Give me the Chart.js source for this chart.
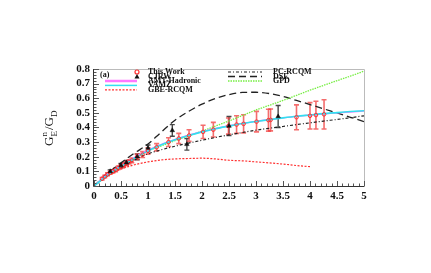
<!DOCTYPE html>
<html>
<head>
<meta charset="utf-8">
<script src="https://cdn.jsdelivr.net/npm/chart.js@4.4.1/dist/chart.umd.min.js"></script>
<style>html,body{margin:0;padding:0;background:#fff}</style>
</head>
<body>
<canvas id="chart" width="431" height="273"></canvas>
<script>
// ---------- data ----------
const twQ2  = [0.15, 0.2, 0.25, 0.3, 0.35, 0.4, 0.45, 0.5, 0.55, 0.6, 0.65, 0.7, 0.8, 0.9, 1.0,
               1.16, 1.38, 1.57, 1.76, 2.02, 2.21, 2.49, 2.64, 2.77, 3.01, 3.23, 3.27, 3.75, 4.0, 4.11, 4.26];
const twVal = [0.05, 0.065, 0.08, 0.09, 0.1, 0.11, 0.125, 0.135, 0.145, 0.155, 0.165, 0.175, 0.2, 0.215, 0.24,
               0.265, 0.3, 0.325, 0.345, 0.37, 0.385, 0.41, 0.42, 0.425, 0.44, 0.45, 0.452, 0.47, 0.48, 0.485, 0.49];
const twErr = [0.008, 0.008, 0.01, 0.01, 0.01, 0.012, 0.012, 0.012, 0.014, 0.014, 0.015, 0.016, 0.018, 0.02, 0.022,
               0.025, 0.03, 0.035, 0.04, 0.045, 0.05, 0.055, 0.06, 0.062, 0.07, 0.075, 0.075, 0.085, 0.09, 0.095, 0.1];

const cjrwQ2  = [0.3, 0.5, 0.6, 0.8, 1.0, 1.45, 1.72, 2.5, 3.41];
const cjrwVal = [0.1, 0.14, 0.16, 0.2, 0.26, 0.38, 0.285, 0.41, 0.475];
const cjrwErr = [0.01, 0.015, 0.015, 0.02, 0.02, 0.04, 0.04, 0.065, 0.075];

const curveQ2 = [0, 0.25, 0.5, 0.75, 1, 1.25, 1.5, 1.75, 2, 2.25, 2.5, 2.75, 3, 3.25, 3.5, 3.75, 4, 4.25, 4.5, 4.75, 5];
const amtVal  = [0, 0.08, 0.14, 0.195, 0.245, 0.285, 0.318, 0.348, 0.372, 0.393, 0.412, 0.428, 0.442, 0.455, 0.466, 0.476, 0.485, 0.493, 0.5, 0.506, 0.512];
const vamzVal = [0, 0.075, 0.135, 0.19, 0.24, 0.282, 0.316, 0.345, 0.37, 0.392, 0.41, 0.427, 0.441, 0.454, 0.466, 0.477, 0.486, 0.495, 0.502, 0.509, 0.515];
const pcVal   = [0, 0.07, 0.125, 0.178, 0.22, 0.248, 0.272, 0.293, 0.313, 0.332, 0.35, 0.366, 0.382, 0.395, 0.407, 0.42, 0.432, 0.444, 0.455, 0.467, 0.48];
const dseVal  = [0, 0.085, 0.158, 0.225, 0.287, 0.37, 0.45, 0.51, 0.56, 0.598, 0.625, 0.64, 0.641, 0.632, 0.612, 0.585, 0.557, 0.528, 0.5, 0.47, 0.44];
const gpdVal  = [0, 0.075, 0.135, 0.19, 0.24, 0.275, 0.31, 0.342, 0.375, 0.41, 0.445, 0.482, 0.52, 0.552, 0.585, 0.62, 0.655, 0.688, 0.72, 0.752, 0.785];
const gbeQ2   = [0, 0.25, 0.5, 0.75, 1, 1.25, 1.5, 1.75, 2, 2.25, 2.5, 2.75, 3, 3.25, 3.5, 3.75, 4];
const gbeVal  = [0, 0.07, 0.115, 0.145, 0.165, 0.178, 0.185, 0.188, 0.19, 0.185, 0.176, 0.172, 0.165, 0.158, 0.15, 0.14, 0.132];

const xTicks = [0, 0.5, 1, 1.5, 2, 2.5, 3, 3.5, 4, 4.5, 5];
const yTicks = [0, 0.1, 0.2, 0.3, 0.4, 0.5, 0.6, 0.7, 0.8];

// ---------- helpers ----------
const pts = (xs, ys) => xs.map((x, i) => ({ x, y: ys[i] }));
const SERIF = '"Liberation Serif", "DejaVu Serif", serif';

function curve(label, xs, ys, color, dash, width) {
  return {
    type: 'line', label, data: pts(xs, ys),
    borderColor: color, borderWidth: width || 1.3, borderDash: dash || [],
    pointRadius: 0, fill: false, tension: 0.4, cubicInterpolationMode: 'monotone'
  };
}

// legend entries (drawn by plugin)
const legendLeft = [
  { label: 'This Work', marker: 'circle' },
  { label: 'CJRW', marker: 'triangle' },
  { label: 'AMT-Hadronic', color: '#ff77ff', dash: [], width: 2.5 },
  { label: 'VAMZ', color: '#33e0f0', dash: [], width: 1.5 },
  { label: 'GBE-RCQM', color: '#ff3030', dash: [2, 1.5], width: 1.2 }
];
const legendRight = [
  { label: 'PC-RCQM', color: '#222', dash: [3, 2, 1, 2], width: 1.2 },
  { label: 'DSE', color: '#222', dash: [7, 4], width: 1.3 },
  { label: 'GPD', color: '#77ee44', dash: [1.5, 1], width: 1.3 }
];

// ---------- plugin ----------
const extras = {
  id: 'extras',
  beforeDatasetsDraw(chart) {
    const { ctx, scales: { x, y } } = chart;
    ctx.save();
    const bars = (xs, ys, es, color, w) => {
      ctx.strokeStyle = color;
      ctx.lineWidth = w;
      xs.forEach((q, i) => {
        const px = x.getPixelForValue(q);
        const top = y.getPixelForValue(ys[i] + es[i]);
        const bot = y.getPixelForValue(ys[i] - es[i]);
        ctx.beginPath();
        ctx.moveTo(px, top); ctx.lineTo(px, bot);
        ctx.moveTo(px - 2.5, top); ctx.lineTo(px + 2.5, top);
        ctx.moveTo(px - 2.5, bot); ctx.lineTo(px + 2.5, bot);
        ctx.stroke();
      });
    };
    bars(cjrwQ2, cjrwVal, cjrwErr, 'rgba(40,40,40,0.85)', 1.4);
    bars(twQ2, twVal, twErr, 'rgba(240,60,60,0.75)', 1.6);
    ctx.restore();
  },
  afterDraw(chart) {
    const { ctx, chartArea: a, scales: { x, y } } = chart;
    ctx.save();
    // frame
    ctx.lineWidth = 1;
    ctx.strokeStyle = '#bbb';
    ctx.beginPath();
    ctx.moveTo(a.left, a.top + 0.5); ctx.lineTo(a.right + 0.5, a.top + 0.5); ctx.lineTo(a.right + 0.5, a.bottom);
    ctx.stroke();
    ctx.strokeStyle = '#333';
    ctx.beginPath();
    ctx.moveTo(a.left - 0.5, a.top); ctx.lineTo(a.left - 0.5, a.bottom + 0.5); ctx.lineTo(a.right + 0.5, a.bottom + 0.5);
    ctx.stroke();
    // inward ticks
    ctx.strokeStyle = '#555';
    ctx.beginPath();
    for (let v = 0; v <= 5.001; v += 0.1) {
      const px = Math.round(x.getPixelForValue(v)) + 0.5;
      const len = Math.abs(v * 2 - Math.round(v * 2)) < 1e-6 ? 5 : 2.5;
      ctx.moveTo(px, a.bottom); ctx.lineTo(px, a.bottom - len);
    }
    for (let v = 0; v <= 0.8001; v += 0.02) {
      const py = Math.round(y.getPixelForValue(v)) + 0.5;
      const len = Math.abs(v * 10 - Math.round(v * 10)) < 1e-6 ? 5 : 2.5;
      ctx.moveTo(a.left, py); ctx.lineTo(a.left + len, py);
    }
    ctx.stroke();

    // legend
    ctx.font = 'bold 8px ' + SERIF;
    ctx.textBaseline = 'middle';
    ctx.fillStyle = '#111';
    ctx.fillText('(a)', 100, 75.3);
    const rowY = [72, 76.5, 81, 85.4, 89.8];
    const drawEntry = (e, i, x0, x1, tx) => {
      const yy = rowY[i];
      if (e.marker === 'circle') {
        ctx.strokeStyle = '#ff3030'; ctx.lineWidth = 1.2; ctx.setLineDash([]);
        ctx.beginPath(); ctx.arc(x1, yy, 2, 0, Math.PI * 2); ctx.stroke();
      } else if (e.marker === 'triangle') {
        ctx.fillStyle = '#111';
        ctx.beginPath(); ctx.moveTo(x1, yy - 2.5); ctx.lineTo(x1 + 2.5, yy + 2); ctx.lineTo(x1 - 2.5, yy + 2); ctx.closePath(); ctx.fill();
      } else {
        ctx.strokeStyle = e.color; ctx.lineWidth = e.width; ctx.setLineDash(e.dash);
        ctx.beginPath(); ctx.moveTo(x0, yy); ctx.lineTo(x1, yy); ctx.stroke();
        ctx.setLineDash([]);
      }
      ctx.fillStyle = '#111';
      ctx.fillText(e.label, tx, yy);
    };
    legendLeft.forEach((e, i) => drawEntry(e, i, 105, 137, 148));
    legendRight.forEach((e, i) => drawEntry(e, i, 228, 262, 273));

    // y title G_E^n / G_D
    ctx.translate(53, 126);
    ctx.rotate(-Math.PI / 2);
    ctx.fillStyle = '#111';
    ctx.textBaseline = 'alphabetic';
    let cx = -20;
    ctx.font = '13px ' + SERIF;
    ctx.fillText('G', cx, 0); cx += ctx.measureText('G').width;
    ctx.font = '9px ' + SERIF;
    ctx.fillText('n', cx, -6);
    ctx.fillText('E', cx, 3.5);
    cx += ctx.measureText('E').width + 1;
    ctx.font = '13px ' + SERIF;
    ctx.fillText('/G', cx, 0); cx += ctx.measureText('/G').width;
    ctx.font = '9px ' + SERIF;
    ctx.fillText('D', cx, 3.5);
    ctx.restore();
  }
};

// ---------- chart ----------
// datasets listed first are drawn on top
new Chart(document.getElementById('chart'), {
  type: 'scatter',
  data: {
    datasets: [
      {
        label: 'CJRW', data: pts(cjrwQ2, cjrwVal),
        pointStyle: 'triangle', pointRadius: 2.6, borderColor: '#111', borderWidth: 0.5,
        backgroundColor: '#111'
      },
      {
        label: 'This Work', data: pts(twQ2, twVal),
        pointStyle: 'circle', pointRadius: 1.8, borderColor: '#ff3030', borderWidth: 1,
        backgroundColor: 'rgba(0,0,0,0)'
      },
      curve('VAMZ', curveQ2, vamzVal, '#33e0f0', [], 1.6),
      curve('AMT-Hadronic', curveQ2, amtVal, '#ff77ff', [], 1.4),
      curve('GPD', curveQ2, gpdVal, '#77ee44', [1.5, 1], 1.3),
      curve('DSE', curveQ2, dseVal, '#222', [7, 4], 1.3),
      curve('PC-RCQM', curveQ2, pcVal, '#222', [3, 2, 1, 2], 1.2),
      curve('GBE-RCQM', gbeQ2, gbeVal, '#ff3030', [2, 1.5], 1.2)
    ]
  },
  options: {
    responsive: false,
    animation: false,
    devicePixelRatio: 1,
    layout: { padding: { left: 64, right: 67, top: 69, bottom: 67 } },
    plugins: { legend: { display: false }, tooltip: { enabled: false } },
    scales: {
      x: {
        type: 'linear', min: 0, max: 5,
        afterFit: s => { s.height = 20; },
        afterBuildTicks: s => { s.ticks = xTicks.map(v => ({ value: v })); },
        grid: { display: false, drawTicks: false },
        border: { display: false },
        ticks: {
          padding: 4, color: '#111', maxRotation: 0, autoSkip: false,
          font: { family: SERIF, weight: 'bold', size: 11 },
          callback: v => String(Math.round(v * 10) / 10)
        }
      },
      y: {
        type: 'linear', min: 0, max: 0.8,
        afterFit: s => { s.width = 30; },
        afterBuildTicks: s => { s.ticks = yTicks.map(v => ({ value: v })); },
        grid: { display: false, drawTicks: false },
        border: { display: false },
        ticks: {
          padding: 4, color: '#111', autoSkip: false,
          font: { family: SERIF, weight: 'bold', size: 11 },
          callback: v => String(Math.round(v * 10) / 10)
        }
      }
    }
  },
  plugins: [extras]
});
</script>
</body>
</html>
